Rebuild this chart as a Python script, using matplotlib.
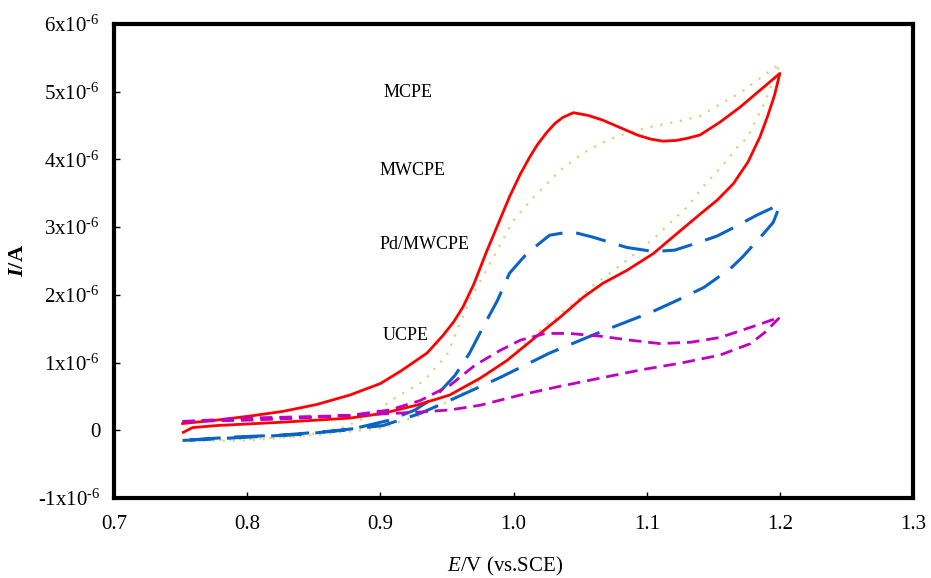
"""Cyclic voltammograms of the four carbon paste electrodes."""

import matplotlib

matplotlib.use("Agg")
import numpy as np
from matplotlib import pyplot as plt
from matplotlib.ticker import FuncFormatter, MultipleLocator

plt.rcParams["font.family"] = ["Liberation Serif", "DejaVu Serif"]
plt.rcParams["mathtext.fontset"] = "custom"
plt.rcParams["mathtext.rm"] = "Liberation Serif"
plt.rcParams["mathtext.it"] = "Liberation Serif:italic"
plt.rcParams["mathtext.bf"] = "Liberation Serif:bold"
plt.rcParams["mathtext.bfit"] = "Liberation Serif:bold:italic"

# potential in V vs. SCE, current in microampere
# MCPE: forward then reverse sweep
mcpe_fwd_e = [0.7515, 0.777, 0.802, 0.827, 0.852, 0.877, 0.900, 0.915, 0.935, 0.947,
              0.955, 0.962, 0.970, 0.980, 0.990, 0.997, 1.005, 1.012, 1.018, 1.025,
              1.031, 1.037, 1.045, 1.056, 1.067, 1.080, 1.093, 1.103, 1.112, 1.122,
              1.130, 1.140, 1.155, 1.170, 1.185, 1.200]
mcpe_fwd_i = [0.10, 0.15, 0.21, 0.28, 0.38, 0.52, 0.69, 0.87, 1.14, 1.40,
              1.60, 1.82, 2.15, 2.65, 3.12, 3.45, 3.78, 4.03, 4.22, 4.40,
              4.53, 4.62, 4.69, 4.65, 4.58, 4.47, 4.36, 4.30, 4.27, 4.28,
              4.31, 4.36, 4.55, 4.77, 5.02, 5.27]
mcpe_rev_e = [1.200, 1.196, 1.191, 1.185, 1.176, 1.165, 1.153, 1.140, 1.123, 1.105,
              1.085, 1.067, 1.052, 1.035, 1.015, 0.995, 0.975, 0.952, 0.927, 0.902,
              0.877, 0.827, 0.777, 0.759, 0.752]
mcpe_rev_i = [5.27, 4.95, 4.65, 4.33, 3.96, 3.64, 3.40, 3.19, 2.91, 2.61,
              2.36, 2.17, 1.96, 1.67, 1.35, 1.03, 0.77, 0.52, 0.37, 0.25,
              0.18, 0.12, 0.07, 0.04, -0.03]

# MWCPE
mwcpe_fwd_e = [0.7515, 0.802, 0.840, 0.870, 0.892, 0.912, 0.932, 0.950, 0.967, 0.985,
               1.000, 1.015, 1.035, 1.052, 1.070, 1.085, 1.103, 1.128, 1.140, 1.157,
               1.170, 1.188, 1.200]
mwcpe_fwd_i = [-0.16, -0.15, -0.09, 0.03, 0.21, 0.49, 0.72, 1.11, 1.92, 2.56,
               3.10, 3.44, 3.84, 4.09, 4.28, 4.39, 4.48, 4.58, 4.64, 4.84,
               4.98, 5.24, 5.41]
mwcpe_rev_e = [1.200, 1.195, 1.189, 1.183, 1.176, 1.168, 1.157, 1.142, 1.130, 1.118,
               1.108, 1.097, 1.085, 1.073, 1.060, 1.050, 1.020, 0.990, 0.960, 0.930,
               0.900, 0.867, 0.840, 0.802, 0.7515]
mwcpe_rev_i = [5.41, 5.17, 4.85, 4.62, 4.33, 4.18, 3.91, 3.59, 3.29, 3.07,
               2.88, 2.70, 2.51, 2.33, 2.14, 1.96, 1.48, 0.96, 0.52, 0.22,
               0.03, -0.04, -0.09, -0.13, -0.16]

# Pd/MWCPE
pd_fwd_e = [0.7515, 0.802, 0.840, 0.877, 0.907, 0.926, 0.941, 0.956, 0.967, 0.977,
            0.988, 0.997, 1.010, 1.027, 1.039, 1.048, 1.060, 1.085, 1.105, 1.121,
            1.140, 1.153, 1.163, 1.183, 1.195, 1.200]
pd_fwd_i = [-0.15, -0.10, -0.06, 0.01, 0.15, 0.30, 0.49, 0.81, 1.14, 1.52,
            1.92, 2.32, 2.61, 2.88, 2.92, 2.91, 2.85, 2.70, 2.64, 2.66,
            2.78, 2.87, 2.97, 3.18, 3.29, 3.32]
pd_rev_e = [1.200, 1.195, 1.188, 1.172, 1.163, 1.143, 1.123, 1.103, 1.065, 1.027,
            0.990, 0.952, 0.930, 0.902, 0.864, 0.827, 0.789, 0.7515]
pd_rev_i = [3.32, 3.07, 2.91, 2.56, 2.39, 2.11, 1.92, 1.74, 1.45, 1.14,
            0.78, 0.44, 0.25, 0.07, -0.01, -0.07, -0.10, -0.15]

# UCPE
ucpe_fwd_e = [0.7515, 0.802, 0.840, 0.877, 0.907, 0.930, 0.952, 0.971, 0.990, 1.005,
              1.024, 1.042, 1.065, 1.088, 1.110, 1.133, 1.155, 1.178, 1.200]
ucpe_fwd_i = [0.13, 0.15, 0.18, 0.22, 0.30, 0.44, 0.66, 0.96, 1.18, 1.33,
              1.43, 1.43, 1.39, 1.33, 1.28, 1.30, 1.37, 1.52, 1.67]
ucpe_rev_e = [1.200, 1.189, 1.178, 1.155, 1.125, 1.095, 1.065, 1.035, 1.005, 0.975,
              0.952, 0.930, 0.900, 0.862, 0.800, 0.7515]
ucpe_rev_i = [1.67, 1.45, 1.28, 1.11, 0.99, 0.89, 0.77, 0.65, 0.52, 0.37,
              0.30, 0.27, 0.24, 0.21, 0.18, 0.13]


def cycle(fwd_e, fwd_i, rev_e, rev_i):
    e = np.array(fwd_e + rev_e[1:])
    i = np.array(fwd_i + rev_i[1:]) * 1e-6
    return e, i


def sci_label(val, _pos):
    n = int(round(val * 1e6))
    if n == 0:
        return "0"
    return f"{n}x10$^{{\\text{{-6}}}}$"


fig = plt.figure(figsize=(9.31, 5.78), dpi=100)
ax = fig.add_axes([0.1225, 0.1384, 0.8582, 0.8201])

e, i = cycle(mwcpe_fwd_e, mwcpe_fwd_i, mwcpe_rev_e, mwcpe_rev_i)
ax.plot(e, i, color="#d9d27a", lw=1.6, ls=(0, (1, 3.5)))
e, i = cycle(pd_fwd_e, pd_fwd_i, pd_rev_e, pd_rev_i)
ax.plot(e, i, color="#0a64c4", lw=2.2, ls=(0, (10, 4.5)))
e, i = cycle(mcpe_fwd_e, mcpe_fwd_i, mcpe_rev_e, mcpe_rev_i)
ax.plot(e, i, color="#ff0000", lw=2.0, solid_joinstyle="round")
e, i = cycle(ucpe_fwd_e, ucpe_fwd_i, ucpe_rev_e, ucpe_rev_i)
ax.plot(e, i, color="#c000c0", lw=2.0, ls=(0, (4.5, 2.5)))

ax.set_xlim(0.7, 1.3)
ax.set_ylim(-1e-6, 6e-6)
ax.xaxis.set_major_locator(MultipleLocator(0.1))
ax.xaxis.set_major_formatter(FuncFormatter(lambda v, p: f"{v:.1f}"))
ax.yaxis.set_major_locator(MultipleLocator(1e-6))
ax.yaxis.set_major_formatter(FuncFormatter(sci_label))

for side in ax.spines.values():
    side.set_linewidth(3.0)
ax.tick_params(direction="in", length=4, width=1, labelsize=15, colors="black")
ax.tick_params(axis="x", pad=12)
ax.tick_params(axis="y", pad=10)

ax.set_xlabel(r"$\mathit{E}$/V (vs.SCE)", fontsize=15)
ax.xaxis.set_label_coords(0.49, -0.12)
ax.set_ylabel(r"$\mathbfit{I}$/A", fontsize=16, fontweight="bold")
ax.yaxis.set_label_coords(-0.108, 0.5)

labels = [("MCPE", 0.902, 4.99e-6), ("MWCPE", 0.8995, 3.84e-6),
          ("Pd/MWCPE", 0.8995, 2.75e-6), ("UCPE", 0.902, 1.40e-6)]
for txt, x, y in labels:
    ax.text(x, y, txt, fontsize=13, ha="left", va="center")

fig.savefig("out.png", dpi=100, facecolor="white")
